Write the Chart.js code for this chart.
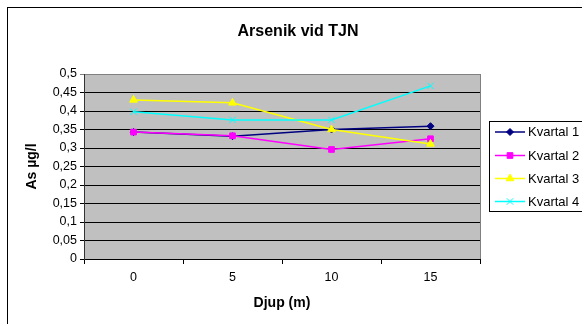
<!DOCTYPE html>
<html>
<head>
<meta charset="utf-8">
<script src="https://cdn.jsdelivr.net/npm/chart.js@4"></script>
<style>
  html, body { margin: 0; padding: 0; background: #fff; }
  #chart { display: block; }
</style>
</head>
<body>
<canvas id="chart" width="582" height="324"></canvas>
<script>
  // data
  const depths = ["0", "5", "10", "15"];
  const kvartal1 = [0.343, 0.332, 0.350, 0.359];
  const kvartal2 = [0.343, 0.333, 0.296, 0.325];
  const kvartal3 = [0.430, 0.422, 0.350, 0.311];
  const kvartal4 = [0.398, 0.376, 0.376, 0.468];
  const seriesNames = ["Kvartal 1", "Kvartal 2", "Kvartal 3", "Kvartal 4"];
  const yTickLabels = ["0", "0,05", "0,1", "0,15", "0,2", "0,25", "0,3", "0,35", "0,4", "0,45", "0,5"];

  const FONT = '"Liberation Sans", Arial, sans-serif';

  // plot background + outer frame + title + legend
  const frame = {
    id: "frame",
    beforeDraw(chart) {
      const {ctx, chartArea: a} = chart;
      ctx.save();
      ctx.fillStyle = "#fff";
      ctx.fillRect(0, 0, chart.width, chart.height);
      ctx.fillStyle = "#c0c0c0";
      ctx.fillRect(a.left, a.top, a.right - a.left, a.bottom - a.top);
      ctx.strokeStyle = "#808080";
      ctx.lineWidth = 1;
      ctx.strokeRect(a.left + 0.5, a.top + 0.5, a.right - a.left, a.bottom - a.top);
      ctx.restore();
    },
    afterDraw(chart) {
      const ctx = chart.ctx;
      ctx.save();
      // outer border
      ctx.strokeStyle = "#000";
      ctx.lineWidth = 1;
      ctx.strokeRect(7.5, 7.5, 640, 400);

      // title
      ctx.fillStyle = "#000";
      ctx.font = "bold 16px " + FONT;
      ctx.textAlign = "center";
      ctx.textBaseline = "alphabetic";
      ctx.fillText("Arsenik vid TJN", 298, 36);

      // legend
      ctx.fillStyle = "#fff";
      ctx.fillRect(489.5, 121.5, 120, 90);
      ctx.strokeStyle = "#000";
      ctx.strokeRect(489.5, 121.5, 120, 90);
      const rows = [132, 155.5, 178.5, 201.5];
      chart.data.datasets.forEach((ds, i) => {
        const y = rows[i];
        ctx.strokeStyle = ds.borderColor;
        ctx.lineWidth = ds.borderWidth;
        ctx.beginPath();
        ctx.moveTo(495, y);
        ctx.lineTo(525, y);
        ctx.stroke();
        ctx.fillStyle = ds.pointBackgroundColor;
        ctx.strokeStyle = ds.pointBorderColor;
        ctx.lineWidth = 1;
        Chart.helpers.drawPoint(ctx, {pointStyle: ds.pointStyle, rotation: 0, radius: ds.pointRadius, borderWidth: 1}, 510, y);
        ctx.fillStyle = "#000";
        ctx.font = "13px " + FONT;
        ctx.textAlign = "left";
        ctx.textBaseline = "middle";
        ctx.fillText(ds.label, 528, y + 0.5);
      });
      ctx.restore();
    }
  };

  function series(label, data, color, style, radius, order) {
    return {
      label: label,
      data: data,
      borderColor: color,
      backgroundColor: color,
      pointBackgroundColor: color,
      pointBorderColor: color,
      pointStyle: style,
      pointRadius: radius,
      pointBorderWidth: 1,
      borderWidth: 1.5,
      tension: 0,
      order: order
    };
  }

  new Chart(document.getElementById("chart"), {
    type: "line",
    data: {
      labels: depths,
      datasets: [
        series(seriesNames[0], kvartal1, "#000080", "rectRot", 3.5, 4),
        series(seriesNames[1], kvartal2, "#ff00ff", "rect", 4, 3),
        series(seriesNames[2], kvartal3, "#ffff00", "triangle", 4.5, 2),
        series(seriesNames[3], kvartal4, "#00ffff", "crossRot", 4.5, 1)
      ]
    },
    options: {
      responsive: false,
      animation: false,
      devicePixelRatio: 1,
      layout: { padding: { left: 16, top: 74, right: 102, bottom: 0 } },
      plugins: {
        legend: { display: false },
        tooltip: { enabled: false },
        title: { display: false }
      },
      scales: {
        x: {
          offset: true,
          afterFit: (s) => { s.height = 65; },
          grid: {
            offset: true,
            drawOnChartArea: false,
            drawTicks: true,
            tickLength: 5,
            color: "#000"
          },
          border: { color: "#000", width: 1 },
          ticks: { color: "#000", padding: 6, font: { family: FONT, size: 12.5 } },
          title: {
            display: true,
            text: "Djup (m)",
            color: "#000",
            font: { family: FONT, size: 14, weight: "bold" },
            padding: { top: 0, bottom: 12 }
          }
        },
        y: {
          min: 0,
          max: 0.5,
          afterFit: (s) => { s.width = 68; },
          grid: {
            color: (c) => (c.tick && c.tick.value >= 0.499 ? "#808080" : "#000"),
            tickLength: 4,
            drawTicks: true
          },
          border: { color: "#333", width: 1 },
          ticks: {
            stepSize: 0.05,
            color: "#000",
            padding: 3,
            font: { family: FONT, size: 12.5 },
            callback: (v, i) => yTickLabels[i]
          },
          title: {
            display: true,
            text: "As µg/l",
            color: "#000",
            font: { family: FONT, size: 14, weight: "bold" },
            padding: { top: 8, bottom: 0 }
          }
        }
      }
    },
    plugins: [frame]
  });
</script>
</body>
</html>
